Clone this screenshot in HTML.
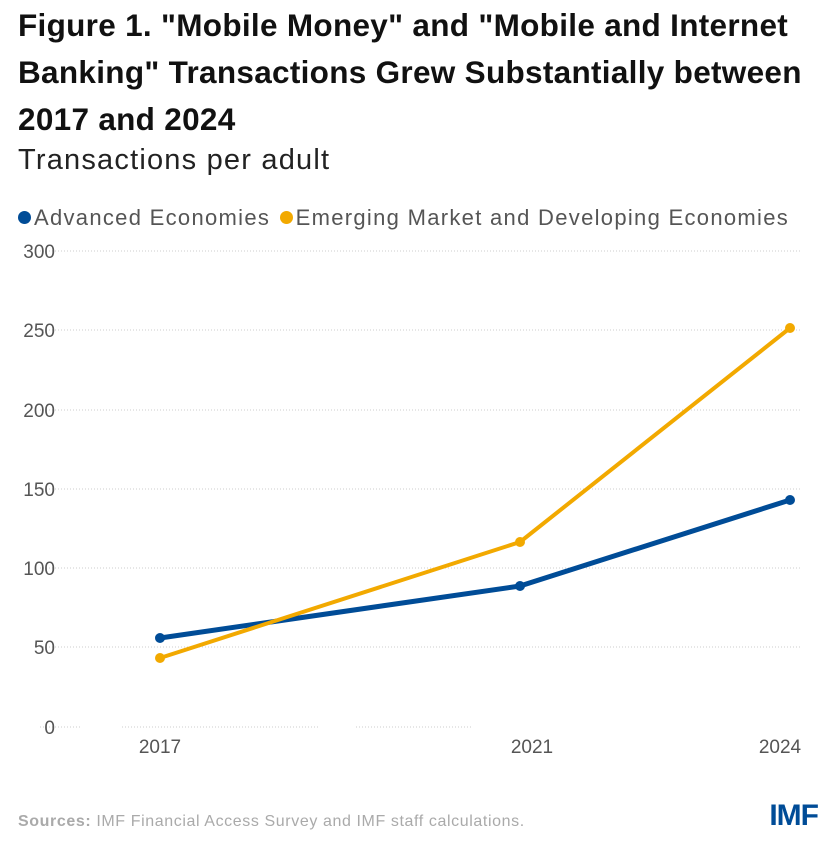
<!DOCTYPE html>
<html><head><style>
body{margin:0;width:837px;height:853px;background:#fff;font-family:"Liberation Sans",sans-serif;overflow:hidden;position:relative}
.t{position:absolute;left:18px;top:2px;font-size:31.5px;font-weight:bold;line-height:47px;color:#111;width:815px;letter-spacing:0.3px}
.s{position:absolute;left:18px;top:144px;font-size:29px;color:#222;letter-spacing:1.2px}
.l{position:absolute;left:18px;top:205px;font-size:22px;color:#555;white-space:nowrap;letter-spacing:1.3px}
.d{display:inline-block;width:13px;height:13px;border-radius:50%;vertical-align:1px;margin-right:3px}
</style></head><body>
<div class="t">Figure 1. "Mobile Money" and "Mobile and Internet Banking" Transactions Grew Substantially between 2017 and 2024</div>
<div class="s">Transactions per adult</div>
<div class="l"><span class="d" style="background:#004c97"></span>Advanced Economies <span class="d" style="background:#f2a900;margin-left:2px"></span>Emerging Market and Developing Economies</div>
<svg width="837" height="853" style="position:absolute;left:0;top:0">
<g stroke="#ccc" stroke-dasharray="1,2" stroke-width="1">
<line x1="40" x2="800" y1="251" y2="251"/><line x1="40" x2="800" y1="330" y2="330"/><line x1="40" x2="800" y1="410" y2="410"/><line x1="40" x2="800" y1="489" y2="489"/><line x1="40" x2="800" y1="568" y2="568"/><line x1="40" x2="800" y1="647" y2="647"/>
<line x1="40" x2="82" y1="727" y2="727"/><line x1="122" x2="318" y1="727" y2="727"/><line x1="356" x2="472" y1="727" y2="727"/></g>
<g font-size="19" fill="#555" text-anchor="end">
<text x="55" y="258">300</text><text x="55" y="337">250</text><text x="55" y="417">200</text><text x="55" y="496">150</text><text x="55" y="575">100</text><text x="55" y="654">50</text><text x="55" y="734">0</text></g>
<g font-size="19" fill="#555" text-anchor="middle"><text x="160" y="753">2017</text><text x="532" y="753">2021</text><text x="780" y="753">2024</text></g>
<polyline points="160,638 520,586 790,500" fill="none" stroke="#004c97" stroke-width="5" stroke-linejoin="round"/>
<polyline points="160,658 520,542 790,328" fill="none" stroke="#f2a900" stroke-width="4" stroke-linejoin="round"/>
<g fill="#004c97"><circle cx="160" cy="638" r="5"/><circle cx="520" cy="586" r="5"/><circle cx="790" cy="500" r="5"/></g>
<g fill="#f2a900"><circle cx="160" cy="658" r="5"/><circle cx="520" cy="542" r="5"/><circle cx="790" cy="328" r="5"/></g>
<text x="18" y="826" font-size="16" fill="#aaa" letter-spacing="0.6"><tspan font-weight="bold">Sources:</tspan> IMF Financial Access Survey and IMF staff calculations.</text>
<text x="818" y="825" font-size="30" font-weight="bold" fill="#004c97" text-anchor="end" letter-spacing="-1">IMF</text>
</svg>
</body></html>
